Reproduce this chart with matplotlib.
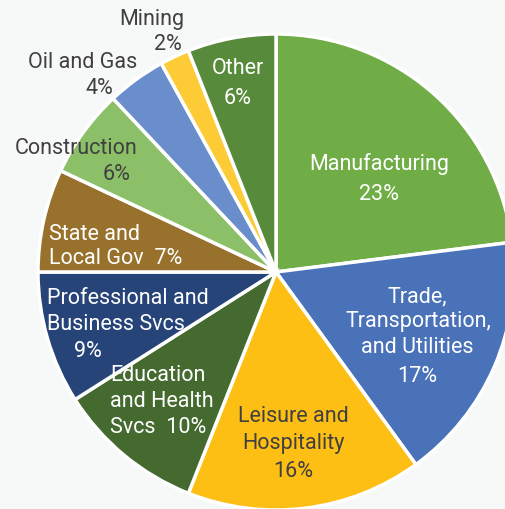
import matplotlib.pyplot as plt
import numpy as np

plt.rcParams['font.family'] = ['Roboto', 'DejaVu Sans']

# Datos
sectors = ['Manufacturing', 'Trade, Transportation, and Utilities', 'Leisure and Hospitality',
           'Education and Health Svcs', 'Professional and Business Svcs', 'State and Local Gov',
           'Construction', 'Oil and Gas', 'Mining', 'Other']
shares = [23, 17, 16, 10, 9, 7, 6, 4, 2, 6]
colors = ['#70ad47', '#4a72b8', '#fdbf14', '#456a30', '#264478', '#98722c',
          '#8cc068', '#6a8ecb', '#fdcb35', '#578a3b']
label_col = ['white', 'white', '#404040', 'white', 'white', 'white',
             '#404040', '#404040', '#404040', 'white']

# Lineas de cada etiqueta: (texto, x px, y px, alineacion); {} = porcentaje
label_lines = [
    [('Manufacturing', 379, 162, 'center'), ('{}%', 379, 192, 'center')],
    [('Trade,', 417, 295, 'center'), ('Transportation,', 418, 320, 'center'),
     ('and Utilities', 417, 346, 'center'), ('{}%', 417, 375, 'center')],
    [('Leisure and', 293, 415, 'center'), ('Hospitality', 293, 442, 'center'),
     ('{}%', 293, 470, 'center')],
    [('Education', 110, 374, 'left'), ('and Health', 110, 400, 'left'),
     ('Svcs  {}%', 110, 426, 'left')],
    [('Professional and', 47, 297, 'left'), ('Business Svcs', 47, 323, 'left'),
     ('{}%', 88, 350, 'center')],
    [('State and', 49, 232, 'left'), ('Local Gov  {}%', 49, 257, 'left')],
    [('Construction', 76, 146, 'center'), ('{}%', 117, 173, 'center')],
    [('Oil and Gas', 83, 60, 'center'), ('{}%', 99, 86, 'center')],
    [('Mining', 152, 17, 'center'), ('{}%', 168, 42, 'center')],
    [('Other', 238, 67, 'center'), ('{}%', 238, 97, 'center')],
]

W, H = 505, 510
cx, cy, r = 276, 273, 238

fig = plt.figure(figsize=(W / 100, H / 100), dpi=100)
fig.patch.set_facecolor('#f7f8f8')
ax = fig.add_axes([0, 0, 1, 1])
ax.set_facecolor('#f7f8f8')

ax.pie(shares, colors=colors, startangle=90, counterclock=False, radius=1,
       wedgeprops=dict(edgecolor='white', linewidth=2.5))

for lines, col, v in zip(label_lines, label_col, shares):
    for txt, px, py, ha in lines:
        # pequeño ajuste hacia abajo (el centro de la caja incluye descendentes)
        ax.text((px - cx) / r, (cy - py - 2) / r, txt.format(v), ha=ha, va='center',
                color=col, fontsize=15.5)

ax.set_xlim(-cx / r, (W - cx) / r)
ax.set_ylim((cy - H) / r, cy / r)
ax.set_aspect('equal')
ax.axis('off')

plt.savefig('out.png', dpi=100, facecolor=fig.get_facecolor())
